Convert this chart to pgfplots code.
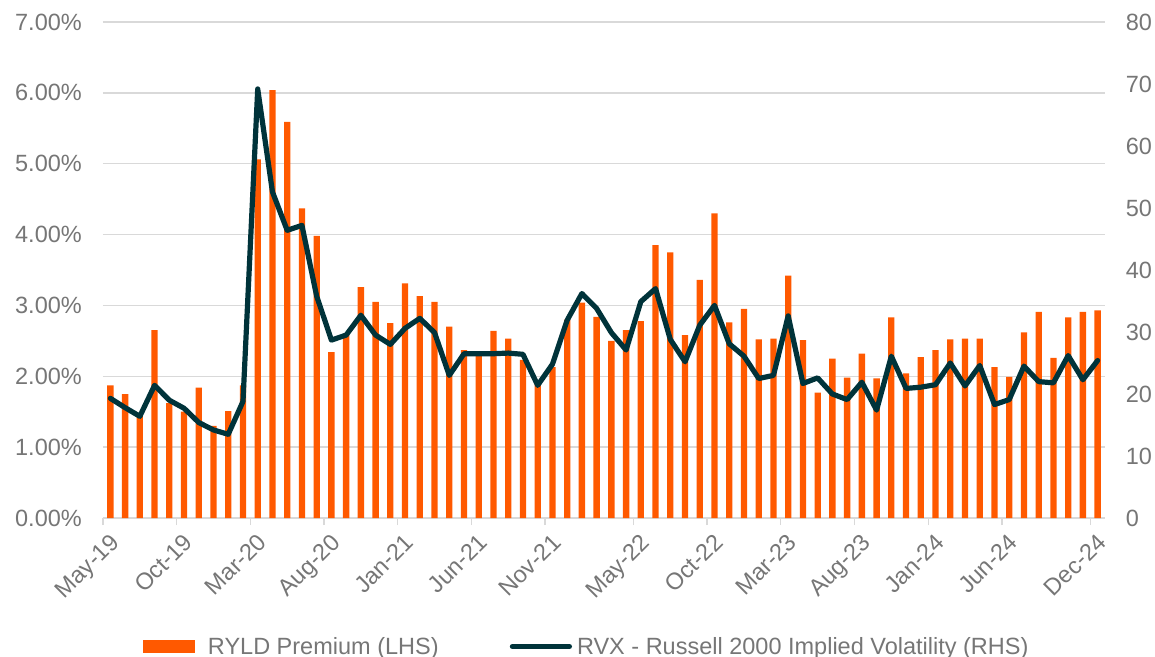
\documentclass[border=0pt]{standalone}
\usepackage{pgfplots}
\usepackage{pgfplotstable}
\pgfplotsset{compat=1.18}
\usepackage{fontspec}
\setmainfont{Liberation Sans}
\definecolor{barorange}{RGB}{255,89,0}
\definecolor{linedark}{RGB}{0,51,58}
\definecolor{txtgray}{RGB}{118,118,118}
\definecolor{gridgray}{RGB}{217,217,217}

\pgfplotstableread{
x prem rvx
0 1.87 19.3
1 1.75 17.8
2 1.45 16.4
3 2.65 21.4
4 1.62 19.0
5 1.50 17.7
6 1.84 15.4
7 1.30 14.2
8 1.51 13.5
9 1.87 18.8
10 5.06 69.2
11 6.04 52.6
12 5.59 46.4
13 4.37 47.2
14 3.98 35.8
15 2.34 28.7
16 2.60 29.5
17 3.26 32.7
18 3.05 29.5
19 2.75 28.0
20 3.31 30.6
21 3.13 32.2
22 3.05 29.9
23 2.70 23.0
24 2.37 26.5
25 2.32 26.5
26 2.64 26.5
27 2.53 26.6
28 2.23 26.4
29 1.90 21.4
30 2.13 24.8
31 2.80 31.9
32 3.04 36.2
33 2.84 33.8
34 2.50 29.9
35 2.65 27.1
36 2.78 34.9
37 3.85 37.0
38 3.75 28.8
39 2.58 25.2
40 3.36 31.1
41 4.30 34.3
42 2.76 28.1
43 2.95 26.1
44 2.52 22.5
45 2.53 23.0
46 3.42 32.6
47 2.51 21.7
48 1.77 22.6
49 2.25 20.0
50 1.98 19.1
51 2.32 21.9
52 1.97 17.4
53 2.83 26.1
54 2.04 20.9
55 2.27 21.1
56 2.37 21.5
57 2.52 25.0
58 2.53 21.3
59 2.53 24.6
60 2.13 18.3
61 1.99 19.1
62 2.62 24.5
63 2.91 22.0
64 2.26 21.8
65 2.83 26.2
66 2.91 22.3
67 2.93 25.4
}\chartdata

\newcommand{\lblfont}{\fontsize{23.5bp}{28bp}\selectfont}

\begin{document}
\begin{tikzpicture}
\useasboundingbox (-103bp,-139bp) rectangle (1052bp,518bp);
\begin{axis}[
  scale only axis, width=1002bp, height=496bp,
  xmin=-0.5, xmax=67.5, ymin=0, ymax=7,
  axis x line*=bottom, axis y line*=left,
  y axis line style={draw=none},
  x axis line style={gridgray, line width=1.3bp},
  xtick={-0.5,4.5,9.5,14.5,19.5,24.5,29.5,35.5,40.5,45.5,50.5,55.5,60.5,66.5},
  xticklabels={May-19,Oct-19,Mar-20,Aug-20,Jan-21,Jun-21,Nov-21,May-22,Oct-22,Mar-23,Aug-23,Jan-24,Jun-24,Dec-24},
  x tick style={gridgray, line width=1.3bp},
  major tick length=7bp,
  tick align=outside,
  ytick={0,1,2,3,4,5,6,7},
  yticklabels={0.00\%,1.00\%,2.00\%,3.00\%,4.00\%,5.00\%,6.00\%,7.00\%},
  y tick style={draw=none},
  ymajorgrids, grid style={gridgray, line width=1.3bp},
  tick label style={font=\lblfont, text=txtgray},
  xticklabel style={rotate=45, anchor=north east, inner sep=0pt, yshift=-9bp, xshift=-1bp},
  yticklabel style={anchor=east, inner sep=0pt, xshift=-14bp},
  legend style={at={(0.0399,-0.259)}, anchor=west, draw=none, fill=none,
    inner sep=0pt, outer sep=0pt, font=\lblfont, text=txtgray,
    nodes={inner sep=0pt},
    /tikz/every odd column/.append style={column sep=13bp}},
  clip=false,
]
\addplot[ybar, bar width=6.3bp, fill=barorange, draw=none,
  legend image code/.code={\fill[barorange] (0bp,-6.3bp) rectangle (52bp,6.3bp);}]
  table[x=x, y=prem] {\chartdata};
\addlegendentry{RYLD Premium (LHS)}
\end{axis}
\begin{axis}[
  scale only axis, width=1002bp, height=496bp,
  xmin=-0.5, xmax=67.5, ymin=0, ymax=80,
  axis x line=none, xtick=\empty,
  axis y line*=right,
  y axis line style={draw=none},
  ytick={0,10,20,30,40,50,60,70,80},
  yticklabels={0,10,20,30,40,50,60,70,80},
  y tick style={draw=none},
  major tick length=0pt,
  tick label style={font=\lblfont, text=txtgray},
  yticklabel style={anchor=west, inner sep=0pt, xshift=20.7bp},
  legend style={at={(0.406,-0.259)}, anchor=west, draw=none, fill=none,
    inner sep=0pt, outer sep=0pt, font=\lblfont, text=txtgray,
    nodes={inner sep=0pt},
    /tikz/every odd column/.append style={column sep=5bp}},
]
\addplot[linedark, line width=5.2bp, line join=round, line cap=round,
  legend image code/.code={\draw[linedark, line width=5.2bp, line cap=round] (0bp,0bp) -- (57bp,0bp);}]
  table[x=x, y=rvx] {\chartdata};
\addlegendentry{RVX - Russell 2000 Implied Volatility (RHS)}
\end{axis}
\end{tikzpicture}
\end{document}
